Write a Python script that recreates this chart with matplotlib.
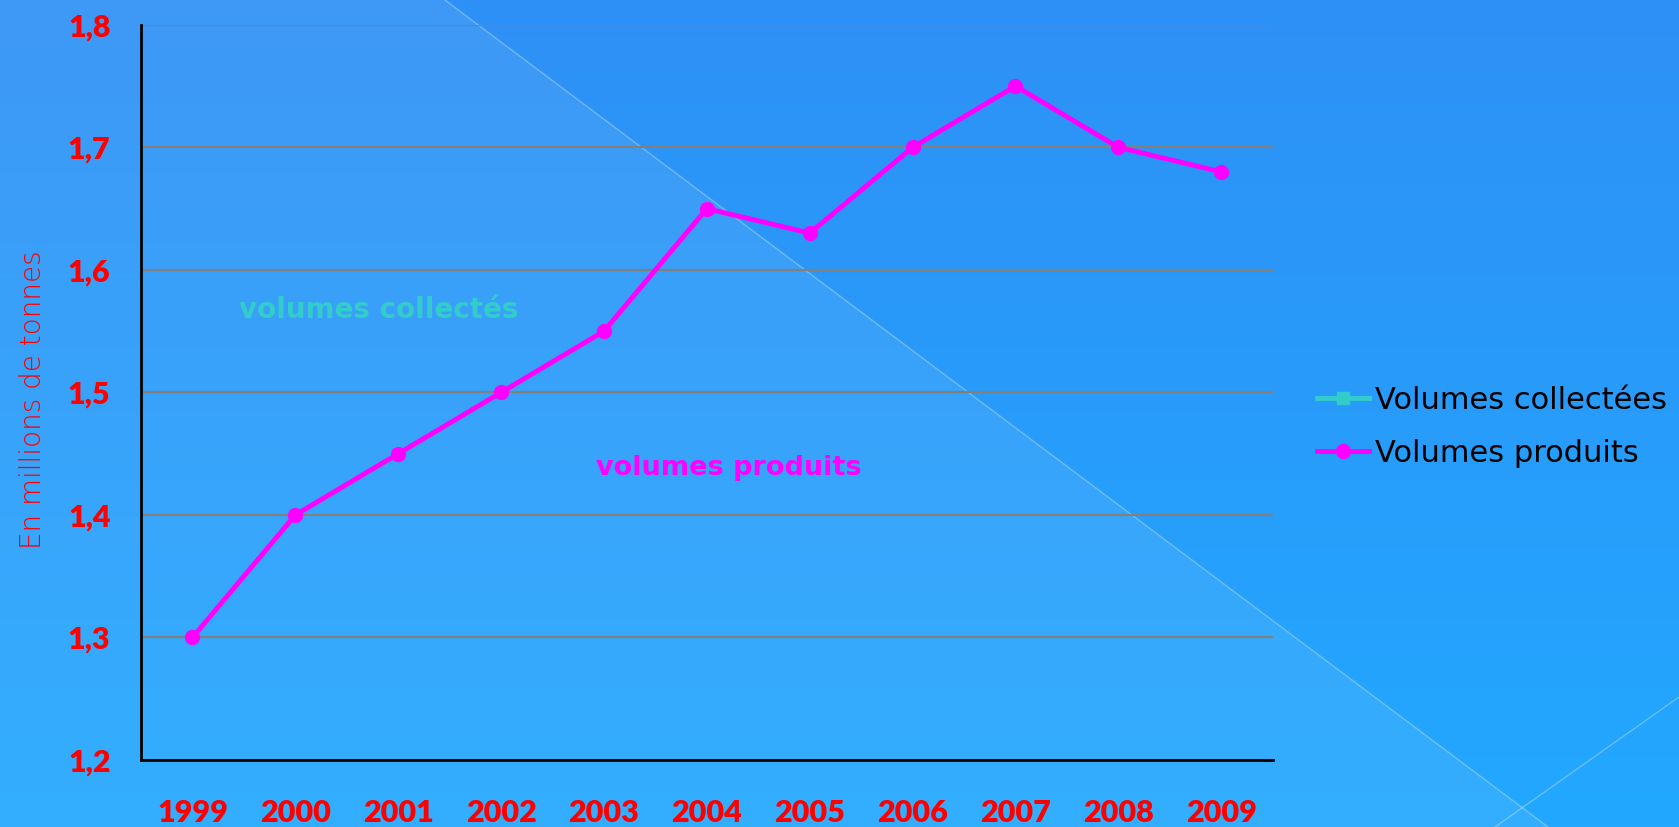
import numpy as np
import matplotlib.pyplot as plt
from matplotlib.patches import Polygon

years = ['1999', '2000', '2001', '2002', '2003', '2004', '2005', '2006', '2007', '2008', '2009']
volumes_produits = [1.30, 1.40, 1.45, 1.50, 1.55, 1.65, 1.63, 1.70, 1.75, 1.70, 1.68]
volumes_collectees = [np.nan] * len(years)   # series exists in legend only
y_ticks = [1.2, 1.3, 1.4, 1.5, 1.6, 1.7, 1.8]
y_labels = ['1,2', '1,3', '1,4', '1,5', '1,6', '1,7', '1,8']

plt.rcParams['font.family'] = ['DejaVu Sans']

fig = plt.figure(figsize=(16.79, 8.27), dpi=100)

# background: vertical blue gradient + lighter diagonal band
bg = fig.add_axes([0, 0, 1, 1])
bg.set_xlim(0, 1679)
bg.set_ylim(827, 0)
bg.axis('off')
top = np.array([0x2E, 0x90, 0xF6]) / 255
bot = np.array([0x22, 0xA8, 0xFF]) / 255
t = np.linspace(0, 1, 256)[:, None]
grad = top * (1 - t) + bot * t
bg.imshow(grad[:, None, :].repeat(2, axis=1), extent=[0, 1679, 827, 0], aspect='auto')
bg.add_patch(Polygon([[0, 0], [445, 0], [1548, 827], [0, 827]], closed=True,
                     facecolor='white', alpha=0.08, edgecolor='none'))
bg.plot([445, 1548], [0, 827], color='white', alpha=0.3, lw=1)
bg.plot([1495, 1679], [827, 697], color='white', alpha=0.3, lw=1)

ax = fig.add_axes([0.084, 0.081, 0.674, 0.889])
ax.patch.set_alpha(0)
x = np.arange(len(years))
ax.plot(x, volumes_collectees, color='#33CCCC', lw=3.5, marker='s', markersize=9,
        label='Volumes collectées')
ax.plot(x, volumes_produits, color='#FF00FF', lw=3.5, marker='o', markersize=10,
        label='Volumes produits')

ax.set_xlim(-0.5, len(years) - 0.5)
ax.set_ylim(1.2, 1.8)
ax.set_xticks(x)
ax.set_xticklabels(years)
ax.set_yticks(y_ticks)
ax.set_yticklabels(y_labels)
ax.tick_params(axis='both', length=0, labelcolor='#FF0000', labelsize=22)
ax.tick_params(axis='x', pad=28)
ax.tick_params(axis='y', pad=22)
for lab in ax.get_xticklabels() + ax.get_yticklabels():
    lab.set_fontweight('heavy')
    lab.set_family('Lato')

ax.grid(axis='y', color='#808080', lw=1.6)
ax.set_axisbelow(True)
for s in ['top', 'right']:
    ax.spines[s].set_visible(False)
ax.spines['left'].set_linewidth(2)
ax.spines['bottom'].set_linewidth(2)

ax.set_ylabel('En millions de tonnes', color='#FF0000', fontsize=20,
              family='DejaVu Sans', fontweight='light')
ax.yaxis.set_label_coords(-0.083, 0.49)

ax.text(1.81, 1.567, 'volumes collectés', color='#33CCCC', fontsize=20,
        fontweight='bold', ha='center', va='center')
ax.text(5.21, 1.438, 'volumes produits', color='#FF00FF', fontsize=19.5,
        fontweight='bold', ha='center', va='center')

fig.legend(loc='center left', bbox_to_anchor=(0.768, 0.484), frameon=False,
           fontsize=22, handlelength=1.7, handletextpad=0.2, labelspacing=0.8)

fig.savefig('out.png', dpi=100)
